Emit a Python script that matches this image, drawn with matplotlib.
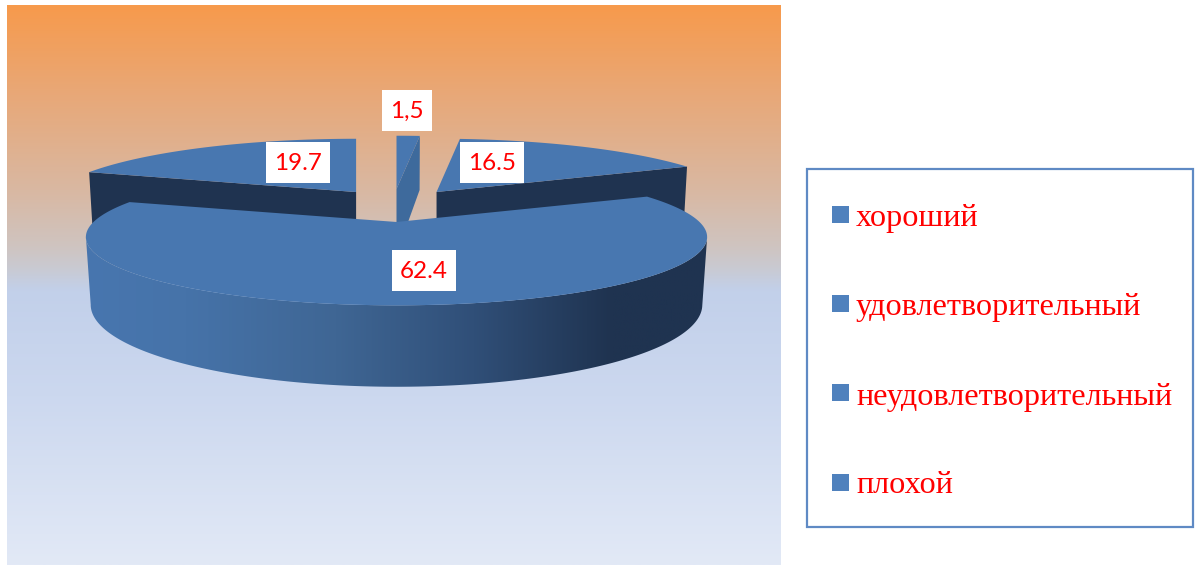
import numpy as np
import matplotlib
matplotlib.use('Agg')
import matplotlib.pyplot as plt
from matplotlib.colors import LinearSegmentedColormap
from matplotlib.patches import Polygon, Rectangle

# Данные диаграммы
categories = ['хороший', 'удовлетворительный', 'неудовлетворительный', 'плохой']
values = [1.5, 16.5, 62.4, 19.7]
value_labels = ['1,5', '16.5', '62.4', '19.7']

# Геометрия "объёмного" круга
cx, cy = 396.5, 205.5
A, B, D = 303, 65, 66
k, m = 0.22, 0.015
explode_x = [0.0, 0.23, 0.0, 0.23]
explode_y = [0.254, 0.254, 0.254, 0.254]

face_color = '#4877b0'
dark_color = '#1f3350'
mid_color = '#3e6a9c'
label_pos = [(407, 110), (492, 162), (424, 270), (298, 162)]


def project(u, v, z, ox, oy):
    w = 1 + k * v + m * z
    return ox + A * u / w, oy - B * v / w + D * z / w


def arc(t0, t1, z, ox, oy, n=300):
    t = np.linspace(t0, t1, n)
    return np.column_stack(project(np.sin(t), np.cos(t), z, ox, oy))


fig = plt.figure(figsize=(12, 5.65), dpi=100)
ax = fig.add_axes([0, 0, 1, 1])

# Фон области диаграммы
bg_cmap = LinearSegmentedColormap.from_list('bg', [
    (0.0, '#f79a4c'), (0.16, '#e8a878'), (0.33, '#d9b8a2'), (0.43, '#cfc4c0'),
    (0.47, '#c9cad2'), (0.51, '#c2d0ea'), (0.70, '#ccd8ef'), (1.0, '#e2e9f6')])
ax.imshow(np.linspace(0, 1, 256).reshape(-1, 1), cmap=bg_cmap, aspect='auto',
          extent=(7, 781, 565, 5), zorder=0)

fractions = np.array(values) / sum(values)
ends = np.cumsum(fractions) * 2 * np.pi
starts = ends - fractions * 2 * np.pi
mids = (starts + ends) / 2
ox = cx + A * np.array(explode_x) * np.sin(mids)
oy = cy - B * np.array(explode_y) * np.cos(mids)

# Задние секторы: видимая боковая стенка и верхняя грань
wall_edges = {3: starts[3], 1: ends[1], 0: ends[0]}
for i in [3, 1, 0]:
    edge = wall_edges[i]
    color = mid_color if i == 0 else dark_color
    p_top = project(0, 0, 0, ox[i], oy[i])
    p_bot = project(0, 0, 1, ox[i], oy[i])
    q_top = project(np.sin(edge), np.cos(edge), 0, ox[i], oy[i])
    q_bot = project(np.sin(edge), np.cos(edge), 1, ox[i], oy[i])
    ax.add_patch(Polygon([p_top, q_top, q_bot, p_bot], closed=True, fc=color, ec='none', zorder=2))
    outline = np.vstack([[p_top], arc(starts[i], ends[i], 0, ox[i], oy[i])])
    ax.add_patch(Polygon(outline, closed=True, fc=face_color, ec='none', zorder=3))

# Большой сектор: боковая поверхность с градиентом и верхняя грань
i = 2
top = arc(starts[i], ends[i], 0, ox[i], oy[i])
bottom = arc(starts[i], ends[i], 1, ox[i], oy[i])
right_idx, left_idx = np.argmax(top[:, 0]), np.argmin(top[:, 0])
wall = Polygon(np.vstack([top[right_idx:left_idx + 1], bottom[right_idx:left_idx + 1][::-1]]),
               closed=True, transform=ax.transData, fc='none', ec='none')
ax.add_patch(wall)
wall_cmap = LinearSegmentedColormap.from_list('wall', [
    (0.0, '#4876af'), (0.16, '#4673a9'), (0.40, '#3f6694'), (0.62, '#304f78'),
    (0.84, '#1f3350'), (1.0, '#1f3350')])
wall_img = ax.imshow(np.linspace(0, 1, 256).reshape(1, -1), cmap=wall_cmap, aspect='auto',
                     extent=(85, 712, 400, 190), zorder=4)
wall_img.set_clip_path(wall)
apex = project(0, 0, 0, ox[i], oy[i])
ax.add_patch(Polygon(np.vstack([[apex], top]), closed=True, fc=face_color, ec='none', zorder=5))

# Подписи значений
for text, (x, y) in zip(value_labels, label_pos):
    w = 50 if text == '1,5' else 64
    ax.add_patch(Rectangle((x - w / 2, y - 20.5), w, 41, fc='white', ec='none', zorder=6))
    ax.text(x, y + 1, text, color='#ff0000', fontsize=17.5, family='Lato',
            ha='center', va='center', zorder=7)

# Легенда
ax.add_patch(Rectangle((807, 169), 386, 358, fc='white', ec='#5f8ac4', lw=1.6, zorder=1))
legend_y = [214, 303.5, 392.5, 482.5]
baseline_y = [226, 315, 405, 493]
for name, ym, yb in zip(categories, legend_y, baseline_y):
    ax.add_patch(Rectangle((832, ym - 8.5), 17, 17, fc='#4f81bd', ec='none', zorder=2))
    ax.text(856, yb, name, color='#ff0000', fontsize=23.2, family='Liberation Serif',
            ha='left', va='baseline', zorder=2)

ax.set_xlim(0, 1200)
ax.set_ylim(565, 0)
ax.axis('off')

fig.savefig('out.png', dpi=100, facecolor='white')
